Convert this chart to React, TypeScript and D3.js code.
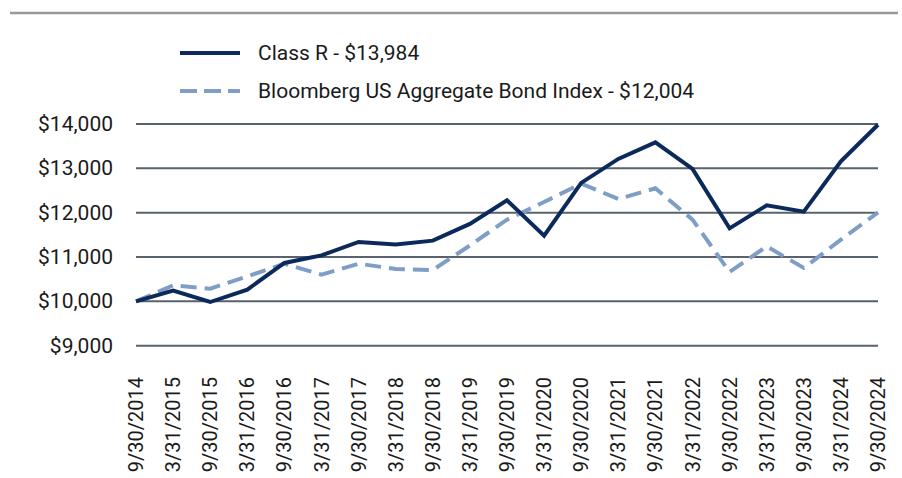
import React from "react";
import * as d3 from "d3";

const dates = [
  "9/30/2014", "3/31/2015", "9/30/2015", "3/31/2016", "9/30/2016", "3/31/2017", "9/30/2017",
  "3/31/2018", "9/30/2018", "3/31/2019", "9/30/2019", "3/31/2020", "9/30/2020", "3/31/2021",
  "9/30/2021", "3/31/2022", "9/30/2022", "3/31/2023", "9/30/2023", "3/31/2024", "9/30/2024",
];
const classR = [
  10000, 10241, 9985, 10264, 10866, 11038, 11340, 11280, 11370, 11746, 12278, 11482, 12671,
  13212, 13587, 12987, 11647, 12166, 12023, 13158, 13984,
];
const bloomberg = [
  10000, 10361, 10286, 10564, 10850, 10602, 10850, 10730, 10707, 11260, 11843, 12240, 12655,
  12310, 12549, 11843, 10663, 11241, 10753, 11392, 12004,
];
const yTicks = [9000, 10000, 11000, 12000, 13000, 14000];
const seriesNames = ["Class R - $13,984", "Bloomberg US Aggregate Bond Index - $12,004"];

const W = 902;
const H = 478;
const FONT = "Roboto, 'Noto Sans', sans-serif";
const DARK = "#0b2a5b";
const LIGHT = "#7f9ec6";
const GRID = "#58636d";

export default function App() {
  const x = d3.scalePoint<string>().domain(dates).range([136, 878]);
  const y = d3.scaleLinear().domain([9000, 14000]).range([345.7, 124]);
  const line = d3
    .line<number>()
    .x((_, i) => x(dates[i]) as number)
    .y((d) => y(d));
  const fmt = (v: number) => "$" + d3.format(",")(v);

  return (
    <svg
      width={W}
      height={H}
      style={{ position: "absolute", left: 0, top: 0, background: "#fff" }}
      fontFamily={FONT}
    >
      <line x1={10} x2={898} y1={13} y2={13} stroke="#999" strokeWidth={2.5} />

      {/* legend */}
      <line x1={180} x2={240} y1={53} y2={53} stroke={DARK} strokeWidth={4} />
      <text x={258} y={53} dominantBaseline="central" fontSize={21} fill="#1a1a1a">
        {seriesNames[0]}
      </text>
      <line x1={180} x2={240} y1={91} y2={91} stroke={LIGHT} strokeWidth={4} strokeDasharray="17,7" />
      <text x={258} y={91} dominantBaseline="central" fontSize={21} fill="#1a1a1a">
        {seriesNames[1]}
      </text>

      {/* grid + y labels */}
      {yTicks.map((t) => (
        <g key={t}>
          <line x1={136} x2={878} y1={y(t)} y2={y(t)} stroke={GRID} strokeWidth={2} />
          <text x={113} y={y(t)} textAnchor="end" dominantBaseline="central" fontSize={21} fill="#1a1a1a">
            {fmt(t)}
          </text>
        </g>
      ))}

      {/* x labels */}
      {dates.map((d) => (
        <text
          key={d}
          transform={`translate(${x(d)},377) rotate(-90)`}
          textAnchor="end"
          dominantBaseline="central"
          fontSize={20}
          fill="#1a1a1a"
        >
          {d}
        </text>
      ))}

      <path d={line(bloomberg) || ""} fill="none" stroke={LIGHT} strokeWidth={4} strokeDasharray="16,8" strokeLinejoin="miter" />
      <path d={line(classR) || ""} fill="none" stroke={DARK} strokeWidth={4} strokeLinejoin="miter" />
    </svg>
  );
}
